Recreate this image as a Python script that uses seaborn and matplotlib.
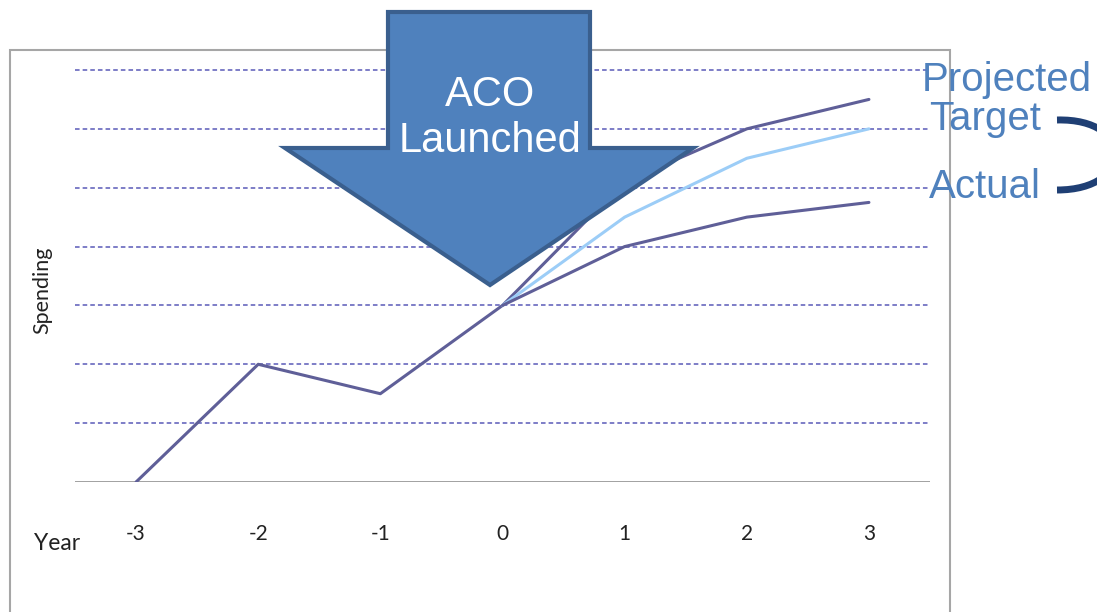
import numpy as np
import pandas as pd
import matplotlib
matplotlib.use("Agg")
import matplotlib.pyplot as plt
import seaborn as sns
from matplotlib.patches import Polygon, Rectangle, PathPatch
from matplotlib.path import Path

# ---- data ----
years = [-3, -2, -1, 0, 1, 2, 3]
projected = [0, 2, 1.5, 3, 5.1, 6, 6.5]
target = [np.nan, np.nan, np.nan, 3, 4.5, 5.5, 6]
actual = [np.nan, np.nan, np.nan, 3, 4, 4.5, 4.75]
x_ticks = [-3, -2, -1, 0, 1, 2, 3]
series_labels = ["Projected", "Target", "Actual"]
arrow_text = "ACO\nLaunched"

sns.set_theme(style="white")
plt.rcParams['font.family'] = ['Liberation Sans', 'DejaVu Sans']

W, H = 1097, 612
fig = plt.figure(figsize=(W / 100, H / 100), dpi=100)
ax = fig.add_axes([75 / W, 1 - 482 / H, (930 - 75) / W, (482 - 70) / H])

df = pd.DataFrame({"year": years, "projected": projected, "target": target, "actual": actual})
purple = "#5f5f98"
light = "#9ccdf7"
sns.lineplot(data=df, x="year", y="projected", ax=ax, color=purple, lw=2.2, zorder=3)
sns.lineplot(data=df.dropna(), x="year", y="target", ax=ax, color=light, lw=2.2, zorder=3)
sns.lineplot(data=df.dropna(), x="year", y="actual", ax=ax, color=purple, lw=2.2, zorder=3)

ax.set_xlim(-3.5, 3.5)
ax.set_ylim(0, 7)
for v in range(1, 8):
    ax.axhline(v, color="#5a5ab8", lw=1.1, ls=(0, (3, 2)), zorder=1, clip_on=False)
ax.axhline(0, color="#9a9a9a", lw=1.3, zorder=2)
for s in ax.spines.values():
    s.set_visible(False)
ax.set_yticks([])
ax.set_xticks(x_ticks)
ax.set_xticklabels([str(t) for t in x_ticks], fontsize=15, color="#222222",
                   fontfamily=["Lato", "DejaVu Sans"])
ax.tick_params(axis="x", length=0, pad=30)
ax.set_xlabel("")
ax.set_ylabel("")
ax.patch.set_alpha(0)

fig.text(57 / W, 1 - 543 / H, "Year", fontsize=16.5, ha="center", va="center",
         color="#222222", family=["Lato", "DejaVu Sans"])
fig.text(42 / W, 1 - 290 / H, "Spending", fontsize=15.5, ha="center", va="center",
         rotation=90, color="#222222", family=["Lato", "DejaVu Sans"])

def fx(x):
    return x / W
def fy(y):
    return 1 - y / H

# outer frame
frame = Rectangle((fx(10), fy(640)), fx(950) - fx(10), fy(50) - fy(640),
                  transform=fig.transFigure, fill=False, ec="#a6a6a6", lw=1.5, zorder=0.5)
fig.patches.append(frame)

# big arrow
pts = [(388, 12), (590, 12), (590, 148), (693, 148), (490, 285), (285, 148), (388, 148)]
arrow = Polygon([(fx(x), fy(y)) for x, y in pts], closed=True, transform=fig.transFigure,
                fc="#4f81bd", ec="#3a5f8e", lw=3, zorder=5, joinstyle="miter")
fig.patches.append(arrow)
fig.text(fx(490), fy(118), arrow_text, color="white", fontsize=30, ha="center",
         va="center", linespacing=1.22, zorder=6)

# right labels
tc = "#4f81bd"
fig.text(fx(1007), fy(80), series_labels[0], color=tc, fontsize=29, ha="center", va="center", zorder=6)
fig.text(fx(985), fy(119), series_labels[1], color=tc, fontsize=29, ha="center", va="center", zorder=6)
fig.text(fx(985), fy(187), series_labels[2], color=tc, fontsize=29, ha="center", va="center", zorder=6)

# bracket
verts = [(fx(1057), fy(120)), (fx(1135), fy(118)), (fx(1135), fy(190)), (fx(1057), fy(190))]
codes = [Path.MOVETO, Path.CURVE4, Path.CURVE4, Path.CURVE4]
br = PathPatch(Path(verts, codes), transform=fig.transFigure, fill=False,
               ec="#1f3f74", lw=5, zorder=6, capstyle="butt")
fig.patches.append(br)

fig.savefig("out.png", dpi=100)
